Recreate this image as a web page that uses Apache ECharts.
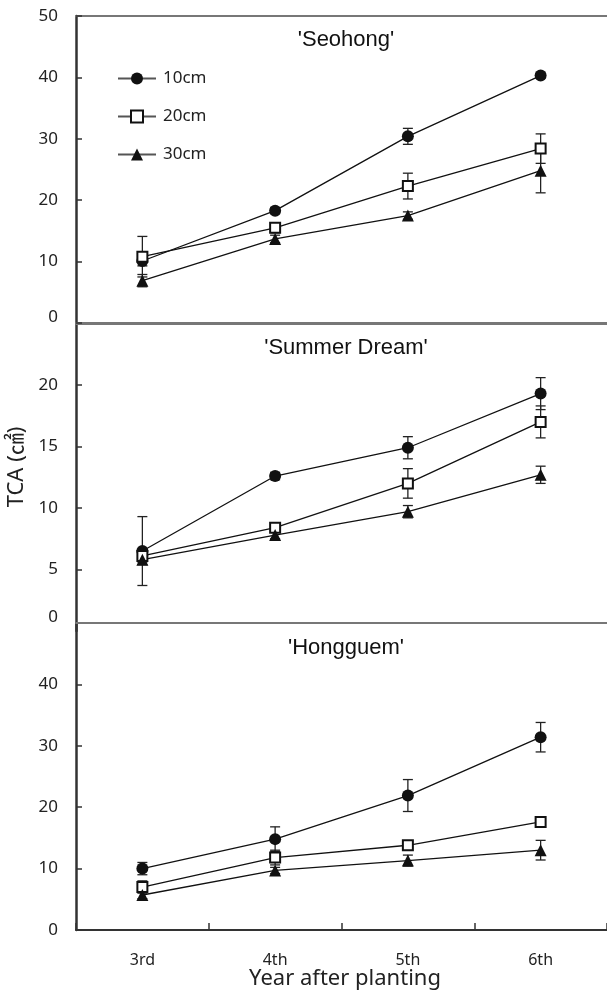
<!DOCTYPE html>
<html>
<head>
<meta charset="utf-8">
<script src="https://cdn.jsdelivr.net/npm/echarts@6/dist/echarts.min.js"></script>
<style>html,body{margin:0;padding:0;background:#fff;}#c{width:607px;height:994px;}</style>
</head>
<body>
<div id="c"></div>
<script>
// ---- data ----
var categories = ['3rd', '4th', '5th', '6th'];
var panelTitles = ["'Seohong'", "'Summer Dream'", "'Hongguem'"];
var seriesNames = ['10cm', '20cm', '30cm'];

var seohong10 = [10.1, 18.3, 30.4, 40.3];
var seohong10Err = [0.8, 0.5, 1.3, 0.4];
var seohong20 = [10.8, 15.5, 22.3, 28.4];
var seohong20Err = [3.3, 0.8, 2.1, 2.4];
var seohong30 = [6.9, 13.7, 17.5, 24.8];
var seohong30Err = [1.0, 0.6, 0.6, 3.6];

var summer10 = [6.5, 12.6, 14.9, 19.3];
var summer10Err = [2.8, 0.3, 0.9, 1.3];
var summer20 = [6.1, 8.4, 12.0, 17.0];
var summer20Err = [0.5, 0.3, 1.2, 1.3];
var summer30 = [5.8, 7.8, 9.7, 12.7];
var summer30Err = [0.4, 0.3, 0.5, 0.7];

var hong10 = [10.0, 14.8, 21.9, 31.4];
var hong10Err = [1.0, 2.0, 2.6, 2.4];
var hong20 = [7.0, 11.8, 13.8, 17.6];
var hong20Err = [1.0, 1.2, 0.7, 0.5];
var hong30 = [5.7, 9.7, 11.3, 13.0];
var hong30Err = [0.6, 0.5, 0.9, 1.6];

var yMax = [50, 25, 50];
var yInterval = [10, 5, 10];
var yTickValues = [[0, 10, 20, 30, 40, 50], [5, 10, 15, 20], [0, 10, 20, 30, 40]];

// ---- build ----
var panels = [
  [[seohong10, seohong10Err], [seohong20, seohong20Err], [seohong30, seohong30Err]],
  [[summer10, summer10Err], [summer20, summer20Err], [summer30, summer30Err]],
  [[hong10, hong10Err], [hong20, hong20Err], [hong30, hong30Err]]
];
var symbols = ['circle', 'emptyRect', 'triangle'];
var symbolSizes = [12, 10, 12];

var FONT = 'Noto Sans';
var gridDefs = [
  {left: 76, top: 16, width: 533, height: 307},
  {left: 76, top: 323.5, width: 533, height: 307.5},
  {left: 76, top: 623, width: 533, height: 307}
];

var grids = [], xAxes = [], yAxes = [], series = [];
gridDefs.forEach(function (g, i) {
  grids.push({left: g.left, top: g.top, width: g.width, height: g.height, containLabel: false});
  xAxes.push({
    type: 'category', gridIndex: i, data: categories, boundaryGap: true, position: 'bottom',
    axisLine: {show: i !== 1, lineStyle: {color: i === 2 ? '#333' : '#777', width: 2}},
    axisTick: {show: i === 2, inside: true, length: 7, lineStyle: {color: '#333', width: 1.5}},
    axisLabel: {show: i === 2, color: '#222', fontFamily: FONT, fontSize: 16, margin: 22},
    splitLine: {show: false}
  });
  xAxes.push({
    type: 'category', gridIndex: i, data: categories, position: 'top',
    axisLine: {show: true, lineStyle: {color: '#777', width: 2}},
    axisTick: {show: false}, axisLabel: {show: false}, splitLine: {show: false}
  });
  yAxes.push({
    type: 'value', gridIndex: i, min: 0, max: yMax[i], interval: yInterval[i],
    axisLine: {show: true, onZero: false, lineStyle: {color: '#333', width: 2.5}},
    axisTick: {show: true, inside: true, length: 6, customValues: yTickValues[i], lineStyle: {color: '#333', width: 1.5}},
    splitLine: {show: false},
    axisLabel: {
      color: '#222', fontFamily: FONT, fontSize: 17, margin: 18,
      formatter: (function (idx) {
        return function (v) {
          if (idx === 1 && v === 25) return '';
          if (idx === 2 && v === 50) return '';
          if (v === 0 && idx === 0) return '{up6|0}';
          if (v === 0 && idx === 1) return '{up14|0}';
          return String(v);
        };
      })(i),
      rich: {
        up6: {fontFamily: FONT, fontSize: 17, color: '#222', padding: [0, 0, 12, 0]},
        up14: {fontFamily: FONT, fontSize: 17, color: '#222', padding: [0, 0, 28, 0]}
      }
    }
  });

  panels[i].forEach(function (pair, s) {
    var vals = pair[0], errs = pair[1];
    series.push({
      type: 'custom', name: seriesNames[s] + '_err', xAxisIndex: i * 2, yAxisIndex: i, z: 1,
      silent: true, legendHoverLink: false,
      data: vals.map(function (v, k) { return [k, v, errs[k]]; }),
      renderItem: function (params, api) {
        var x = api.value(0), y = api.value(1), e = api.value(2);
        var top = api.coord([x, y + e]);
        var bot = api.coord([x, y - e]);
        var cap = 5;
        var st = {stroke: '#222', lineWidth: 1.3};
        return {type: 'group', children: [
          {type: 'line', shape: {x1: top[0], y1: top[1], x2: bot[0], y2: bot[1]}, style: st},
          {type: 'line', shape: {x1: top[0] - cap, y1: top[1], x2: top[0] + cap, y2: top[1]}, style: st},
          {type: 'line', shape: {x1: bot[0] - cap, y1: bot[1], x2: bot[0] + cap, y2: bot[1]}, style: st}
        ]};
      }
    });
    series.push({
      type: 'line', name: seriesNames[s], xAxisIndex: i * 2, yAxisIndex: i, z: 3,
      data: vals, symbol: symbols[s], symbolSize: symbolSizes[s], showAllSymbol: true,
      lineStyle: {color: '#111', width: 1.3},
      itemStyle: {color: '#111', borderColor: '#111', borderWidth: s === 1 ? 1.5 : 0},
      emphasis: {disabled: true}, animation: false
    });
  });
});

var graphics = [];
var titleY = [40, 348, 648];
panelTitles.forEach(function (t, i) {
  graphics.push({type: 'text', x: 346, y: titleY[i],
    style: {text: t, fill: '#111', font: '22px "Liberation Sans", Arial, sans-serif', textAlign: 'center', textVerticalAlign: 'middle'}});
});
graphics.push({type: 'text', x: 17, y: 467, rotation: Math.PI / 2,
  style: {text: 'TCA (㎠)', fill: '#222', font: '22px "Noto Sans", "Noto Sans CJK KR", sans-serif', textAlign: 'center', textVerticalAlign: 'middle'}});
graphics.push({type: 'text', x: 345, y: 979,
  style: {text: 'Year after planting', fill: '#222', font: '22px "Noto Sans", sans-serif', textAlign: 'center', textVerticalAlign: 'middle'}});

var chart = echarts.init(document.getElementById('c'), null, {renderer: 'canvas'});
chart.setOption({
  animation: false,
  backgroundColor: '#fff',
  grid: grids,
  xAxis: xAxes,
  yAxis: yAxes,
  legend: {
    data: seriesNames, orient: 'vertical', left: 112, top: 65,
    itemWidth: 38, itemHeight: 15, itemGap: 21,
    lineStyle: {color: '#555', width: 2},
    textStyle: {color: '#222', fontFamily: FONT, fontSize: 17, padding: [0, 0, 0, 2]},
    selectedMode: false
  },
  graphic: graphics,
  series: series
});
</script>
</body>
</html>
